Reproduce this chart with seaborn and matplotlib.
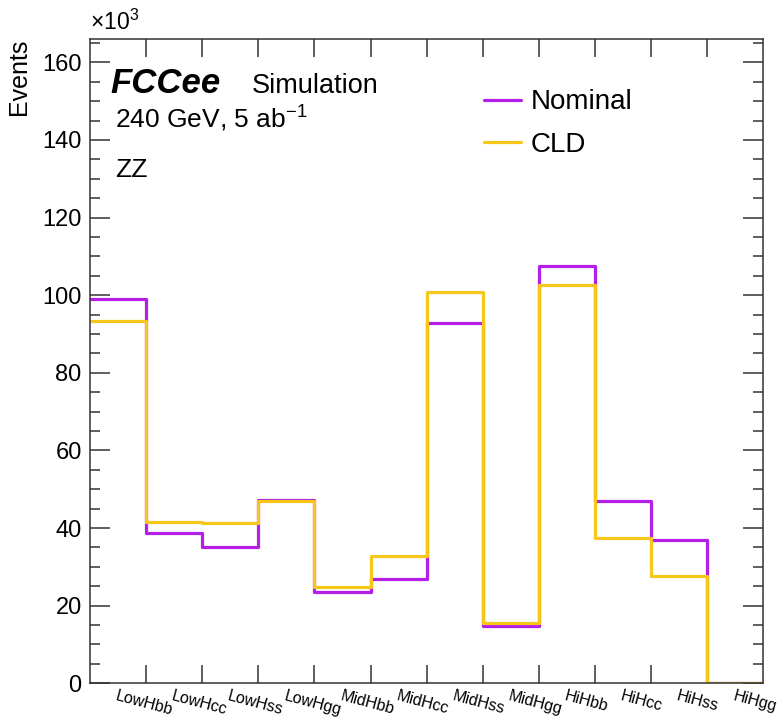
import numpy as np
import pandas as pd
import matplotlib
matplotlib.use("Agg")
import matplotlib.pyplot as plt
import seaborn as sns
from matplotlib.ticker import MultipleLocator, FixedLocator, NullFormatter

# ---- data (events, in units of 10^3) ----
categories = ["LowHbb", "LowHcc", "LowHss", "LowHgg",
              "MidHbb", "MidHcc", "MidHss", "MidHgg",
              "HiHbb", "HiHcc", "HiHss", "HiHgg"]
nominal = [99.0, 38.8, 35.0, 47.2, 23.6, 26.8, 92.9, 14.8, 107.5, 47.0, 36.8, 0.0]
cld = [93.3, 41.6, 41.2, 47.0, 24.9, 32.8, 100.8, 15.5, 102.7, 37.4, 27.7, 0.0]
series_names = ["Nominal", "CLD"]
series_colors = ["#B41EE6", "#F7C61A"]
y_ticks = [0, 20, 40, 60, 80, 100, 120, 140, 160]

sns.set_theme(style="white")
plt.rcParams["font.family"] = ["Liberation Sans", "DejaVu Sans"]
plt.rcParams["text.color"] = "black"
plt.rcParams["axes.labelcolor"] = "black"
plt.rcParams["xtick.color"] = "black"
plt.rcParams["ytick.color"] = "black"
plt.rcParams["mathtext.fontset"] = "custom"
plt.rcParams["mathtext.rm"] = "Liberation Sans"
plt.rcParams["mathtext.it"] = "Liberation Sans:italic"
plt.rcParams["mathtext.bf"] = "Liberation Sans:bold"

n = len(categories)
idx = np.arange(n)

df = pd.DataFrame({
    "bin": np.concatenate([idx, idx]),
    "events": np.concatenate([nominal, cld]),
    "series": np.repeat(series_names, n),
})

fig = plt.figure(figsize=(7.81, 7.22), dpi=100)
ax = fig.add_axes([90 / 781, 1 - 683.3 / 722, 673.3 / 781, 644.3 / 722])

for name, col in zip(series_names, series_colors):
    sub = df[df["series"] == name].reset_index(drop=True)
    sns.histplot(data=sub, x="bin", weights="events", discrete=True,
                 element="step", fill=False, color=col, linewidth=2.3,
                 label=name, ax=ax)

ax.set_xlim(-0.5, n - 0.5)
ax.set_ylim(0, 166)
ax.set_xlabel("")
ax.set_ylabel("Events", loc="top", fontsize=18, labelpad=8)

# y ticks
ax.yaxis.set_major_locator(FixedLocator(y_ticks))
ax.yaxis.set_minor_locator(MultipleLocator(5))
ax.tick_params(axis="y", which="major", direction="in", length=14.4, width=1.1,
               labelsize=17, right=True, left=True, color="#333333", pad=6)
ax.tick_params(axis="y", which="minor", direction="in", length=7.2, width=1.1,
               right=True, left=True, color="#333333")

# x ticks: bin edges (major, unlabeled), labels at bin centres (minor)
ax.xaxis.set_major_locator(FixedLocator(idx[1:] - 0.5))
ax.xaxis.set_major_formatter(NullFormatter())
ax.tick_params(axis="x", which="major", direction="in", length=13, width=1.1,
               top=True, bottom=True, color="#333333")
ax.xaxis.set_minor_locator(FixedLocator(idx))
ax.set_xticklabels(categories, minor=True)
ax.tick_params(axis="x", which="minor", length=0, labelsize=11.5, pad=4)
for lab in ax.get_xticklabels(minor=True):
    lab.set_rotation(-15)
    lab.set_ha("left")
    lab.set_va("top")
    lab.set_rotation_mode("anchor")
    lab.set_x(lab.get_position()[0])

for s in ax.spines.values():
    s.set_color("#333333")
    s.set_linewidth(1.1)

# annotations
ax.text(0, 1.006, r"$\times10^{3}$", transform=ax.transAxes, ha="left",
        va="bottom", fontsize=16.5)
ax.text(0.0297, 0.9167, "FCCee", transform=ax.transAxes, fontsize=25,
        fontweight="bold", fontstyle="italic", va="baseline", ha="left")
ax.text(0.2406, 0.9167, "Simulation", transform=ax.transAxes, fontsize=19.5,
        va="baseline", ha="left")
ax.text(0.0371, 0.862, r"240 GeV, 5 ab$^{-1}$", transform=ax.transAxes,
        fontsize=19, va="baseline", ha="left")
ax.text(0.0371, 0.786, "ZZ", transform=ax.transAxes, fontsize=19,
        va="baseline", ha="left")

leg = ax.legend(loc="upper left", bbox_to_anchor=(0.585, 0.922), frameon=False,
                fontsize=20, handlelength=1.35, handletextpad=0.33,
                labelspacing=0.6, borderpad=0, borderaxespad=0)
for h in leg.get_lines():
    h.set_linewidth(2.3)

fig.savefig("out.png", dpi=100)
